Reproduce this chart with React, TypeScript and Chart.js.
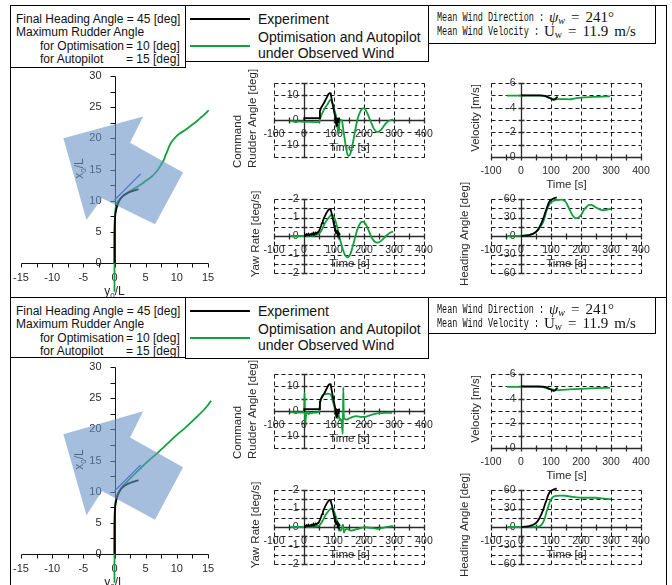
import React, { useEffect, useRef } from 'react';
import { Chart, registerables } from 'chart.js';
Chart.register(...registerables);

type Pt = [number, number];

const FONT = '"Liberation Sans", Arial, Helvetica, sans-serif';
const BLACK = '#000000';
const GREEN = '#12a03a';
const BLUE = '#2f4fe0';
const ARROW = 'rgba(105,147,200,0.6)';

// ---------------- ticks / grid ----------------
const timeTicks = [-100, 0, 100, 200, 300, 400];
const timeMinorTicks = [-100, -50, 0, 50, 100, 150, 200, 250, 300, 350, 400];
const rudderTicks = [-10, 0, 10];
const rudderGrid = [-15, -10, -5, 0, 5, 10, 15];
const velocityTicks = [0, 2, 4, 6];
const velocityGrid = [0, 1, 2, 3, 4, 5, 6];
const yawTicks = [-2, -1, 0, 1, 2];
const yawGrid = [-2, -1.5, -1, -0.5, 0, 0.5, 1, 1.5, 2];
const headingTicks = [-60, -30, 0, 30, 60];
const headingGrid = [-60, -45, -30, -15, 0, 15, 30, 45, 60];
const trajXTicks = [-15, -10, -5, 0, 5, 10, 15];
const trajYTicks = [0, 5, 10, 15, 20, 25, 30];
const trajXMinor = [-15, -12.5, -10, -7.5, -5, -2.5, 0, 2.5, 5, 7.5, 10, 12.5, 15];
const trajYMinor = [0, 2.5, 5, 7.5, 10, 12.5, 15, 17.5, 20, 22.5, 25, 27.5, 30];

// ---------------- experiment (shared by both panels) ----------------
const rudderExp: Pt[] = [[0,0],[1,0.8],[51,0.8],[53,3.6],[57,5.0],[62,6.0],[67,7.0],[72,8.2],[77,9.4],[81,10.4],[85,10.9],[89,10.8],[92,8.6],[96,6.0],[100,3.6],[104,1.2],[106,-0.5],[108,-2.4],[110,-2.2],[111,0.4],[114,0.5],[115,-1.2],[117,0.6],[120,0.6]];
const velocityExp: Pt[] = [[0,5.0],[20,5.0],[40,5.0],[60,5.0],[72,4.98],[80,4.95],[88,4.88],[95,4.8],[101,4.72],[106,4.66],[110,4.64],[113,4.66],[116,4.74],[119,4.83],[122,4.88]];
const yawExp: Pt[] = [[0,0],[3,0.08],[6,0.02],[9,0.1],[12,0.05],[15,0.12],[18,0.04],[21,0.1],[24,0.07],[27,0.14],[30,0.08],[33,0.15],[36,0.1],[39,0.18],[42,0.13],[45,0.2],[48,0.22],[51,0.3],[54,0.42],[57,0.55],[60,0.7],[63,0.82],[66,0.95],[69,1.05],[72,1.15],[75,1.25],[78,1.33],[81,1.4],[84,1.45],[87,1.46],[89,1.4],[91,1.3],[94,1.1],[97,0.85],[100,0.6],[103,0.4],[106,0.28],[108,0.2],[110,0.25],[112,0.12],[114,0.18],[116,0.08],[118,0.12],[120,0.06]];
const headingExp: Pt[] = [[0,0],[15,0.5],[28,1.6],[40,3.5],[51,7],[60,13],[68,21],[74,28],[80,37],[86,45],[91,52],[96,56.5],[102,59],[110,61],[119,62.5]];
const trajExp: Pt[] = [[0,0],[0,2],[0,4],[0.03,6],[0.08,7.2],[0.2,8.2],[0.35,8.9],[0.55,9.5],[0.9,10.2],[1.3,10.7],[1.8,11.05],[2.5,11.4],[3.2,11.65],[3.85,11.85]];

// ---------------- simulation, upper panel ----------------
const rudderSimA: Pt[] = [[-45,-0.5],[0,-0.7],[25,-0.8],[50,-0.9],[52,-0.5],[56,1.3],[62,3.0],[69,4.7],[75,5.8],[80,6.7],[85,7.8],[89,8.3],[93,7.5],[97,6.0],[101,4.2],[105,2.5],[109,0.5],[112,-3],[114,-5.5],[116,-5.5],[118,-1],[120,0],[124,0],[127,-0.5],[131,-4],[136,-8],[141,-12],[146,-14.2],[150,-14.5],[155,-13.5],[160,-11],[165,-8],[170,-4.5],[175,-1.5],[180,1.0],[186,3.0],[192,4.3],[198,4.8],[204,4.3],[210,3.0],[216,1.3],[222,-0.5],[228,-2.3],[234,-3.7],[240,-4.6],[246,-4.8],[252,-4.5],[258,-3.8],[264,-2.8],[270,-1.8],[276,-1.0],[282,-0.4],[290,0],[297,0.1]];
const velocitySimA: Pt[] = [[-47,4.98],[0,4.98],[50,4.98],[70,4.97],[85,4.88],[95,4.78],[105,4.72],[120,4.7],[140,4.7],[162,4.68],[180,4.75],[200,4.82],[240,4.87],[270,4.9],[297,4.92]];
const yawSimA: Pt[] = [[-45,0],[0,0],[20,0.01],[36,0.04],[45,0.08],[52,0.15],[58,0.3],[64,0.5],[70,0.7],[76,0.85],[82,0.98],[88,1.1],[93,1.15],[97,1.1],[102,0.95],[107,0.7],[112,0.38],[117,0.05],[122,-0.3],[127,-0.6],[132,-0.85],[137,-1.02],[142,-1.13],[146,-1.15],[150,-1.1],[155,-0.95],[160,-0.7],[165,-0.4],[170,-0.1],[175,0.2],[180,0.45],[186,0.65],[192,0.76],[198,0.77],[204,0.68],[210,0.5],[216,0.28],[222,0.05],[228,-0.15],[234,-0.28],[240,-0.35],[246,-0.36],[252,-0.32],[258,-0.25],[264,-0.16],[270,-0.06],[276,0.04],[282,0.12],[290,0.2],[297,0.23]];
const headingSimA: Pt[] = [[-45,0],[0,0.5],[20,1.3],[34,2.7],[46,5.5],[57,10],[66,16],[74,23],[80,32],[85,41],[90,47],[97,53],[105,56],[114,58],[125,58.5],[136,59],[142,58],[148,56],[154,51],[160,45],[165,40],[170,35],[176,31],[182,29],[188,29],[193,30.5],[200,34],[205,38],[210,42.5],[218,47],[227,50.5],[235,50.5],[244,48],[255,45],[267,42.5],[275,42],[284,42.5],[293,43.5],[301,44.5]];
const trajSimA: Pt[] = [[0,-4.6],[0,0],[0.02,4],[0.05,6.6],[0.1,8],[0.2,8.9],[0.4,9.6],[0.7,10.1],[1.2,10.6],[1.7,11.0],[2.25,11.4],[2.9,11.8],[3.6,12.2],[4.4,12.7],[5.2,13.3],[5.9,13.8],[6.5,14.4],[7.0,15.0],[7.3,15.5],[7.6,16.0],[7.9,16.5],[8.2,17.3],[8.5,18.0],[8.8,18.8],[9.2,19.5],[9.8,20.2],[10.5,20.8],[11.3,21.3],[12.1,21.9],[12.9,22.5],[13.7,23.2],[14.4,23.8],[15.1,24.5],[15.6,25.2],[16.1,26.0]];
const trajRefA: Pt[] = [[0,10.1],[4.2,14.3]];
const windArrowA: Pt[] = [[-8.2,20.0],[4.6,23.5],[2.5,19.3],[11.0,14.5],[6.5,6.2],[-2.0,10.4],[-4.5,6.9]];

// ---------------- simulation, lower panel ----------------
const rudderSimB: Pt[] = [[-47,-0.5],[-10,-0.6],[0,-0.6],[1,3],[2,7.3],[3,0],[4,-5],[6,-3],[8,-1],[12,-0.5],[16,-1.3],[20,-0.6],[25,-1],[30,-0.7],[40,-0.6],[50,-0.5],[52,1.6],[56,4.5],[61,6.3],[66,6.7],[72,6.9],[80,7],[87,6.9],[91,6.2],[94,4.9],[97,3.6],[100,2.3],[104,0.3],[108,-1.7],[111,-3],[114,0],[117,-2.5],[119,-3.7],[122,-3.2],[126,-5],[129,-9.3],[130,-2],[131,9.6],[132,2],[133,-2.4],[137,-3.3],[142,-3.5],[148,-3.2],[156,-2.7],[165,-2.3],[172,-2.1],[180,-2.2],[190,-2.4],[200,-2.4],[212,-2.1],[222,-1.7],[234,-1.3],[244,-1],[256,-0.9],[267,-0.8],[280,-0.7],[294,-0.7]];
const velocitySimB: Pt[] = [[-47,4.95],[0,4.95],[50,4.95],[70,4.93],[85,4.85],[95,4.77],[110,4.72],[125,4.7],[140,4.72],[160,4.75],[200,4.8],[250,4.85],[297,4.88]];
const yawSimB: Pt[] = [[-45,0],[0,0],[30,0.01],[47,0.05],[55,0.15],[64,0.4],[72,0.65],[81,0.85],[88,0.97],[92,1.0],[97,0.93],[103,0.72],[108,0.45],[114,0.1],[119,-0.18],[122,-0.2],[125,-0.1],[128,0.05],[130,0.13],[132,-0.1],[133,-0.3],[136,-0.2],[142,-0.1],[150,-0.15],[158,-0.2],[168,-0.15],[180,-0.1],[192,-0.05],[202,0],[212,-0.03],[224,-0.05],[236,-0.08],[247,-0.1],[258,-0.06],[269,-0.02],[283,0.02],[297,0.05]];
const headingSimB: Pt[] = [[-45,0],[0,0],[30,0.2],[57,0.5],[65,2],[74,8],[80,15],[85,24.5],[91,33],[97,42],[103,46.5],[108,49],[116,50.3],[125,50.7],[136,51],[148,50.7],[160,49.8],[170,49],[185,48],[205,47.4],[230,47.4],[250,47.4],[270,46.5],[290,45.5],[300,45.2]];
const trajSimB: Pt[] = [[0,-4.6],[0,0],[0.02,4],[0.05,6.6],[0.1,7.8],[0.2,8.6],[0.35,9.2],[0.6,9.8],[1.0,10.5],[1.5,11.1],[2.2,11.8],[3.0,12.6],[4.2,13.8],[5.5,15.0],[7.0,16.3],[8.5,17.7],[10,19.1],[11.5,20.4],[13,21.8],[14.5,23.3],[15.5,24.6],[16.3,26]];
const trajRefB: Pt[] = [[0,10.1],[4.2,14.3]];
const windArrowB: Pt[] = [[-8.2,19.2],[4.6,22.9],[2.5,18.7],[11.0,13.9],[6.5,5.5],[-2.0,10.1],[-4.5,6.2]];

const toXY = (a: Pt[]) => a.map(([x, y]) => ({ x, y }));

interface SmallSpec {
  yMin: number; yMax: number; axisY: number;
  yTicks: number[]; yGrid: number[];
  titles: string[]; titleDx: number[]; titleMode: 'bottom' | 'center';
  expSmooth: boolean;
}

const rudderSpec: SmallSpec = { yMin: -15, yMax: 15, axisY: 0, yTicks: rudderTicks, yGrid: rudderGrid, titles: ['Command', 'Rudder Angle [deg]'], titleDx: [-36, -21], titleMode: 'bottom', expSmooth: false };
const velocitySpec: SmallSpec = { yMin: 0, yMax: 6, axisY: 0, yTicks: velocityTicks, yGrid: velocityGrid, titles: ['Velocity [m/s]'], titleDx: [-15], titleMode: 'center', expSmooth: true };
const yawSpec: SmallSpec = { yMin: -2, yMax: 2, axisY: 0, yTicks: yawTicks, yGrid: yawGrid, titles: ['Yaw Rate [deg/s]'], titleDx: [-18], titleMode: 'center', expSmooth: false };
const headingSpec: SmallSpec = { yMin: -60, yMax: 60, axisY: 0, yTicks: headingTicks, yGrid: headingGrid, titles: ['Heading Angle [deg]'], titleDx: [-26], titleMode: 'center', expSmooth: true };

type Box = [number, number, number, number];

function baseOptions(box: Box, area: Box, x: [number, number], y: [number, number]): any {
  const [bl, bt, bw, bh] = box;
  const [al, at, aw, ah] = area;
  return {
    responsive: false,
    maintainAspectRatio: false,
    animation: false,
    devicePixelRatio: 1,
    events: [],
    layout: { padding: { left: al - bl, top: at - bt, right: bl + bw - al - aw, bottom: bt + bh - at - ah } },
    plugins: { legend: { display: false }, tooltip: { enabled: false }, title: { display: false } },
    scales: {
      x: { type: 'linear', min: x[0], max: x[1], display: false },
      y: { type: 'linear', min: y[0], max: y[1], display: false },
    },
  };
}

function SmallChart({ spec, box, area, exp, sim }: { spec: SmallSpec; box: Box; area: Box; exp: Pt[]; sim: Pt[] }) {
  const ref = useRef<HTMLCanvasElement>(null);
  useEffect(() => {
    const plugin = {
      id: 'smallAxes',
      beforeDatasetsDraw(chart: any) {
        const { ctx } = chart;
        const xs = chart.scales.x, ys = chart.scales.y;
        const px = (v: number) => Math.round(xs.getPixelForValue(v)) + 0.5;
        const py = (v: number) => Math.round(ys.getPixelForValue(v)) + 0.5;
        const xL = px(xs.min), xR = px(xs.max), yT = py(ys.max), yB = py(ys.min);
        const ax = px(0), ay = py(spec.axisY);
        ctx.save();
        ctx.strokeStyle = '#1a1a1a';
        ctx.lineWidth = 1;
        ctx.setLineDash([4, 3]);
        ctx.beginPath();
        spec.yGrid.forEach((g) => { if (g === spec.axisY) return; const yy = py(g); ctx.moveTo(xL, yy); ctx.lineTo(xR, yy); });
        timeTicks.forEach((t) => { if (t === 0) return; const xx = px(t); ctx.moveTo(xx, yT); ctx.lineTo(xx, yB); });
        ctx.stroke();
        ctx.setLineDash([]);
        ctx.strokeStyle = '#2a2a2a';
        ctx.lineWidth = 1.3;
        ctx.beginPath();
        ctx.moveTo(xL, ay); ctx.lineTo(xR, ay);
        ctx.moveTo(ax, yT); ctx.lineTo(ax, yB);
        timeMinorTicks.forEach((t) => { const xx = px(t); ctx.moveTo(xx, ay - 3); ctx.lineTo(xx, ay + 3); });
        spec.yGrid.forEach((g) => { const yy = py(g); ctx.moveTo(ax - 3, yy); ctx.lineTo(ax + 3, yy); });
        ctx.stroke();
        ctx.fillStyle = '#2a2a2a';
        ctx.font = `10.5px ${FONT}`;
        ctx.textAlign = 'center';
        ctx.textBaseline = 'middle';
        timeTicks.forEach((t) => ctx.fillText(String(t), xs.getPixelForValue(t), ay + 14));
        ctx.textAlign = 'right';
        spec.yTicks.forEach((v) => ctx.fillText(String(v), ax - 6, ys.getPixelForValue(v)));
        ctx.font = `11.5px ${FONT}`;
        ctx.textAlign = 'center';
        ctx.fillText('Time [s]', (xL + xR) / 2, ay + 27);
        const ca = chart.chartArea;
        spec.titles.forEach((t, i) => {
          ctx.save();
          const tx = ca.left + spec.titleDx[i];
          const ty = spec.titleMode === 'bottom' ? ca.bottom + 11 : (ca.top + ca.bottom) / 2 - 2;
          ctx.translate(tx, ty);
          ctx.rotate(-Math.PI / 2);
          ctx.textAlign = spec.titleMode === 'bottom' ? 'left' : 'center';
          ctx.textBaseline = 'middle';
          ctx.fillText(t, 0, 0);
          ctx.restore();
        });
        ctx.restore();
      },
    };
    const chart = new Chart(ref.current as HTMLCanvasElement, {
      type: 'scatter',
      data: {
        datasets: [
          { data: toXY(exp), showLine: true, borderColor: BLACK, borderWidth: 1.8, pointRadius: 0, tension: 0, cubicInterpolationMode: spec.expSmooth ? 'monotone' : 'default', clip: false } as any,
          { data: toXY(sim), showLine: true, borderColor: GREEN, borderWidth: 1.8, pointRadius: 0, cubicInterpolationMode: 'monotone', clip: false } as any,
        ],
      },
      options: baseOptions(box, area, [-100, 400], [spec.yMin, spec.yMax]),
      plugins: [plugin],
    });
    return () => chart.destroy();
  }, []);
  const [bl, bt, bw, bh] = box;
  return <canvas ref={ref} width={bw} height={bh} style={{ position: 'absolute', left: bl, top: bt, width: bw, height: bh }} />;
}

function drawSubText(ctx: any, base: string, sub: string, tail: string, size: number) {
  const f = `${size}px ${FONT}`;
  const fs = `${Math.round(size * 0.7)}px ${FONT}`;
  ctx.font = f;
  const w1 = ctx.measureText(base).width;
  const w3 = ctx.measureText(tail).width;
  ctx.font = fs;
  const w2 = ctx.measureText(sub).width;
  let x = -(w1 + w2 + w3) / 2;
  ctx.textAlign = 'left';
  ctx.textBaseline = 'alphabetic';
  const base0 = size * 0.36;
  ctx.font = f; ctx.fillText(base, x, base0); x += w1;
  ctx.font = fs; ctx.fillText(sub, x, base0 + size * 0.28); x += w2;
  ctx.font = f; ctx.fillText(tail, x, base0);
}

function TrajChart({ box, area, sim, refLine, arrow }: { box: Box; area: Box; sim: Pt[]; refLine: Pt[]; arrow: Pt[] }) {
  const ref = useRef<HTMLCanvasElement>(null);
  useEffect(() => {
    const plugin = {
      id: 'trajAxes',
      beforeDatasetsDraw(chart: any) {
        const { ctx } = chart;
        const xs = chart.scales.x, ys = chart.scales.y;
        const px = (v: number) => Math.round(xs.getPixelForValue(v)) + 0.5;
        const py = (v: number) => Math.round(ys.getPixelForValue(v)) + 0.5;
        const ax = px(0), ay = py(0);
        ctx.save();
        ctx.strokeStyle = '#111';
        ctx.lineWidth = 1;
        ctx.beginPath();
        ctx.moveTo(px(-15), ay); ctx.lineTo(px(15), ay);
        ctx.moveTo(ax, py(0)); ctx.lineTo(ax, py(30));
        trajXMinor.forEach((v) => { const xx = px(v); ctx.moveTo(xx, ay); ctx.lineTo(xx, ay + 4); });
        trajYMinor.forEach((v) => { const yy = py(v); ctx.moveTo(ax - 5, yy); ctx.lineTo(ax, yy); });
        ctx.stroke();
        ctx.fillStyle = '#2a2a2a';
        ctx.font = `11px ${FONT}`;
        ctx.textAlign = 'center';
        ctx.textBaseline = 'middle';
        trajXTicks.forEach((v) => ctx.fillText(String(v), xs.getPixelForValue(v), ay + 14));
        ctx.textAlign = 'right';
        trajYTicks.forEach((v) => ctx.fillText(String(v), ax - 14, ys.getPixelForValue(v)));
        const ca = chart.chartArea;
        ctx.save();
        ctx.translate(ax - 37, (ca.top + ca.bottom) / 2 - 1);
        ctx.rotate(-Math.PI / 2);
        drawSubText(ctx, 'x', '0', '/L', 12);
        ctx.restore();
        ctx.save();
        ctx.translate(ax - 1, ay + 27);
        drawSubText(ctx, 'y', '0', '/L', 12);
        ctx.restore();
        ctx.restore();
      },
      afterDatasetsDraw(chart: any) {
        const { ctx } = chart;
        const xs = chart.scales.x, ys = chart.scales.y;
        ctx.save();
        ctx.fillStyle = ARROW;
        ctx.beginPath();
        arrow.forEach(([a, b], i) => {
          const X = xs.getPixelForValue(a), Y = ys.getPixelForValue(b);
          if (i === 0) ctx.moveTo(X, Y); else ctx.lineTo(X, Y);
        });
        ctx.closePath();
        ctx.fill();
        ctx.restore();
      },
    };
    const chart = new Chart(ref.current as HTMLCanvasElement, {
      type: 'scatter',
      data: {
        datasets: [
          { data: toXY(refLine), showLine: true, borderColor: BLUE, borderWidth: 1.3, pointRadius: 0, clip: false } as any,
          { data: toXY(trajExp), showLine: true, borderColor: BLACK, borderWidth: 1.8, pointRadius: 0, tension: 0.3, clip: false } as any,
          { data: toXY(sim), showLine: true, borderColor: GREEN, borderWidth: 1.8, pointRadius: 0, tension: 0.3, clip: false } as any,
        ],
      },
      options: baseOptions(box, area, [-15, 15], [0, 30]),
      plugins: [plugin],
    });
    return () => chart.destroy();
  }, []);
  const [bl, bt, bw, bh] = box;
  return <canvas ref={ref} width={bw} height={bh} style={{ position: 'absolute', left: bl, top: bt, width: bw, height: bh }} />;
}

function Line({ x, y, w, h }: { x: number; y: number; w: number; h: number }) {
  return <div style={{ position: 'absolute', left: x, top: y, width: w, height: h, background: '#000' }} />;
}

function TextAt({ x, cy, size, children, style }: { x: number; cy: number; size: number; children: any; style?: any }) {
  return (
    <div style={{ position: 'absolute', left: x, top: cy - size * 0.6, lineHeight: `${size * 1.2}px`, fontSize: size, whiteSpace: 'nowrap', color: '#111', ...style }}>
      {children}
    </div>
  );
}

function Header({ top, h1, h2, h3 }: { top: number; h1: number; h2: number; h3: number }) {
  const boxStyle = (l: number, w: number, h: number): any => ({ position: 'absolute', left: l, top, width: w, height: h, border: '1px solid #000', boxSizing: 'border-box', background: '#fff' });
  const mono: any = { fontFamily: '"Liberation Mono", "DejaVu Sans Mono", monospace', fontSize: 12.5, transform: 'scaleX(0.68)', transformOrigin: 'left center', display: 'inline-block' };
  const serif: any = { fontFamily: '"Liberation Serif", "Times New Roman", serif', fontSize: 15 };
  const sp = <span style={{ display: 'inline-block', width: 6 }} />;
  return (
    <>
      <div style={boxStyle(10, 176, h1)} />
      <div style={boxStyle(185, 244, h2)} />
      <div style={boxStyle(428, 228, h3)} />
      <TextAt x={16} cy={top + 14.5} size={12}>Final Heading Angle = 45 [deg]</TextAt>
      <TextAt x={16} cy={top + 27.5} size={12}>Maximum Rudder Angle</TextAt>
      <TextAt x={40} cy={top + 41} size={12}>for Optimisation</TextAt>
      <TextAt x={40} cy={top + 54} size={12}>for Autopilot</TextAt>
      <TextAt x={126} cy={top + 41} size={12}>= 10 [deg]</TextAt>
      <TextAt x={126} cy={top + 54} size={12}>= 15 [deg]</TextAt>
      <Line x={190} y={top + 12.5} w={60} h={2} />
      <div style={{ position: 'absolute', left: 190, top: top + 39.5, width: 60, height: 2, background: GREEN }} />
      <TextAt x={258} cy={top + 14} size={14}>Experiment</TextAt>
      <TextAt x={258} cy={top + 32.5} size={14}>Optimisation and Autopilot</TextAt>
      <TextAt x={258} cy={top + 48} size={14}>under Observed Wind</TextAt>
      <TextAt x={437} cy={top + 12.5} size={12.5}><span style={mono}>Mean Wind Direction :</span></TextAt>
      <TextAt x={437} cy={top + 26} size={12.5}><span style={mono}>Mean Wind Velocity :</span></TextAt>
      <TextAt x={549} cy={top + 12} size={15} style={serif}>
        <i>ψ</i><sub style={{ fontSize: 10, verticalAlign: '-2px' }}><i>w</i></sub>{sp}={sp}241°
      </TextAt>
      <TextAt x={544} cy={top + 26} size={15} style={serif}>
        U<sub style={{ fontSize: 10, verticalAlign: '-2px' }}>w</sub>{sp}={sp}11.9{sp}m/s
      </TextAt>
    </>
  );
}

function Panel({ dy, sims, header }: { dy: number; sims: { rudder: Pt[]; velocity: Pt[]; yaw: Pt[]; heading: Pt[]; traj: Pt[]; ref: Pt[]; arrow: Pt[] }; header: [number, number, number] }) {
  return (
    <>
      <TrajChart box={[10, 68 + dy, 220, dy > 0 ? 226 : 229]} area={[21, 76 + dy, 187, 187]} sim={sims.traj} refLine={sims.ref} arrow={sims.arrow} />
      <SmallChart spec={rudderSpec} box={[228, 68 + dy, 216, 118]} area={[274, 83 + dy, 150, 74]} exp={rudderExp} sim={sims.rudder} />
      <SmallChart spec={velocitySpec} box={[444, 68 + dy, 222, 122]} area={[491, 83 + dy, 150, 74]} exp={velocityExp} sim={sims.velocity} />
      <SmallChart spec={yawSpec} box={[228, 180 + dy, 216, 116]} area={[274, 199 + dy, 150, 74]} exp={yawExp} sim={sims.yaw} />
      <SmallChart spec={headingSpec} box={[444, 176 + dy, 222, 120]} area={[491, 199 + dy, 150, 74]} exp={headingExp} sim={sims.heading} />
      <Header top={5 + dy + (dy > 0 ? 1 : 0)} h1={header[0]} h2={header[1]} h3={header[2]} />
    </>
  );
}

export default function App() {
  return (
    <div style={{ position: 'fixed', left: 0, top: 0, width: 672, height: 585, background: '#fff', overflow: 'hidden', fontFamily: FONT }}>
      <Line x={10} y={5} w={1} h={580} />
      <Line x={10} y={5} w={657} h={1} />
      <Line x={666} y={5} w={1} h={580} />
      <Line x={10} y={297} w={657} h={1} />
      <Panel dy={0} header={[63, 57, 39]} sims={{ rudder: rudderSimA, velocity: velocitySimA, yaw: yawSimA, heading: headingSimA, traj: trajSimA, ref: trajRefA, arrow: windArrowA }} />
      <Panel dy={291} header={[61, 62, 37]} sims={{ rudder: rudderSimB, velocity: velocitySimB, yaw: yawSimB, heading: headingSimB, traj: trajSimB, ref: trajRefB, arrow: windArrowB }} />
    </div>
  );
}
